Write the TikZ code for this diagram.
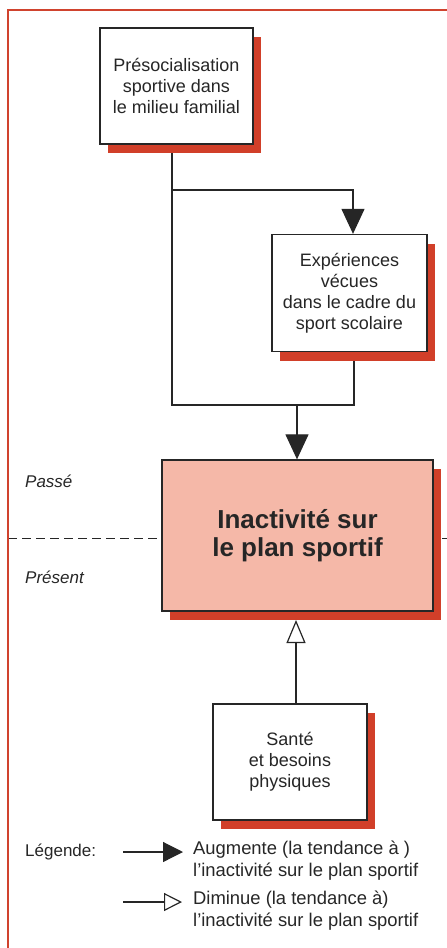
\documentclass[tikz,border=0pt]{standalone}
\usepackage{fontspec}
\setmainfont{Liberation Sans}
\usetikzlibrary{arrows.meta,shadows}
\pgfdeclarelayer{bg}
\pgfsetlayers{bg,main}
\definecolor{framered}{HTML}{D0432E}
\definecolor{shadered}{HTML}{D13F29}
\definecolor{pinkfill}{HTML}{F5B8A8}
\definecolor{ink}{HTML}{262626}
\begin{document}
\begin{tikzpicture}[x=1pt,y=-1pt,
  box/.style={draw=ink, line width=1.3pt, fill=white, align=center, inner sep=0pt,
    font=\fontsize{18}{21}\selectfont, text=ink,
    general shadow={fill=shadered, shadow xshift=8pt, shadow yshift=-9pt}},
  conn/.style={draw=ink, line width=1.2pt},
  fillarrow/.style={-{Triangle[length=25pt,width=23pt]}},
  openarrow/.style={-{Triangle[open,length=23pt,width=19pt]}},
  legfill/.style={-{Triangle[length=20pt,width=20pt]}},
  legopen/.style={-{Triangle[open,length=18pt,width=18pt]}},
  lbl/.style={font=\fontsize{17}{21}\selectfont, text=ink, inner sep=0pt},
  legtext/.style={font=\fontsize{18.4}{22}\selectfont, text=ink, inner sep=0pt},
  dash line/.style={draw=ink, line width=1pt, dash pattern=on 9pt off 5pt}]
\useasboundingbox (0,0) rectangle (447,948);
% frame
\draw[framered, line width=2.5pt] (8,948) -- (8,10) -- (447,10);
% boxes
\node[box, minimum width=153pt, minimum height=116pt] (b1) at (176.5,86)
  {Présocialisation\\sportive dans\\le milieu familial};
\node[box, minimum width=155pt, minimum height=117pt] (b2) at (349.5,293)
  {Expériences\\vécues\\dans le cadre du\\sport scolaire};
\node[box, fill=pinkfill, minimum width=271pt, minimum height=151pt,
  font=\fontsize{26}{28.5}\selectfont\bfseries] (m) at (297.5,535.5)
  {Inactivité sur\\le plan sportif};
\node[box, minimum width=154pt, minimum height=116pt] (s) at (290,762)
  {Santé\\et besoins\\physiques};
% dashed time line
\coordinate (dl) at (8,538);
\coordinate (dr) at (447,538);
\begin{pgfonlayer}{bg}
\draw[dash line] (dl) -- (dl -| m.west);
\draw[dash line] (442,538) -- (dr);
\end{pgfonlayer}
\node[lbl, anchor=west, font=\fontsize{17}{21}\selectfont\itshape] (passe) at (25,481) {Passé};
\node[lbl, anchor=west, font=\fontsize{17}{21}\selectfont\itshape] (present) at (25,577) {Présent};
% connectors
\coordinate (j1) at (172,190);
\coordinate (j2) at (353,190);
\coordinate (j3) at (172,405);
\coordinate (j4) at (354,405);
\coordinate (j5) at (297,405);
\coordinate (h) at (296,620);
\begin{pgfonlayer}{bg}
\draw[conn] (j1 |- b1.south) -- (j1) -- (j3) -- (j4) -- (j4 |- b2.south);
\end{pgfonlayer}
\draw[conn, fillarrow] (j1) -- (j2) -- (j2 |- b2.north);
\draw[conn, fillarrow] (j5) -- (j5 |- m.north);
\draw[conn, openarrow] (h |- s.north) -- (h);
% legend
\node[lbl, anchor=west] (leg) at (25,852) {Légende:};
\coordinate (la1) at (123,852);
\coordinate (la2) at (183,852);
\coordinate (lb1) at (123,902);
\coordinate (lb2) at (182,902);
\draw[conn, legfill] (la1) -- (la2);
\draw[conn, legopen] (lb1) -- (lb2);
\node[legtext, anchor=north west, align=left] (ta) at (193,841)
  {Augmente (la tendance à )\\l’inactivité sur le plan sportif};
\node[legtext, anchor=north west, align=left] (tb) at (193,891)
  {Diminue (la tendance à)\\l’inactivité sur le plan sportif};
\end{tikzpicture}
\end{document}
